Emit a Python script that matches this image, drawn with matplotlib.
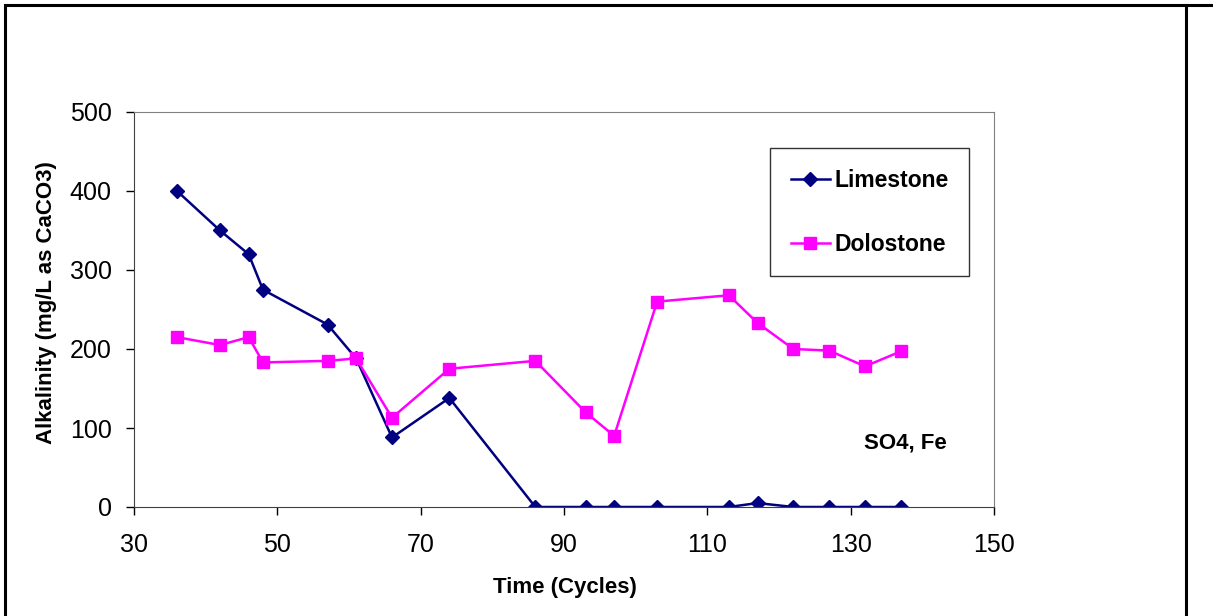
import matplotlib.pyplot as plt
from matplotlib.lines import Line2D

plt.rcParams['font.family'] = ['Liberation Sans', 'DejaVu Sans']

cycles = [36, 42, 46, 48, 57, 61, 66, 74, 86, 93, 97, 103, 113, 117, 122, 127, 132, 137]
limestone = [400, 350, 320, 275, 231, 188, 88, 138, 0, 0, 0, 0, 0, 5, 0, 0, 0, 0]
dolostone = [215, 205, 215, 183, 185, 188, 113, 175, 185, 120, 90, 260, 268, 233, 200, 198, 178, 197]

W, H = 1213, 616
fig = plt.figure(figsize=(W / 100, H / 100), dpi=100)
ax = fig.add_axes([134 / W, 1 - 507 / H, (994 - 134) / W, (507 - 112) / H])

ax.plot(cycles, limestone, color="#000080", lw=1.8, marker="D", ms=7.5, label="Limestone")
ax.plot(cycles, dolostone, color="#FF00FF", lw=1.8, marker="s", ms=8.5, label="Dolostone")

ax.set_xlim(30, 150)
ax.set_ylim(0, 500)
ax.set_xticks(range(30, 151, 20))
ax.set_yticks(range(0, 501, 100))
ax.tick_params(direction="out", length=6, width=1, labelsize=18)
ax.tick_params(axis="x", pad=13)
ax.tick_params(axis="y", pad=10)
for s in ["top", "right"]:
    ax.spines[s].set_color("#808080")
for s in ["left", "bottom"]:
    ax.spines[s].set_color("#404040")

ax.text(137.7, 81, "SO4, Fe", fontsize=16, fontweight="bold", ha="center", va="center")

leg = ax.legend(loc="upper left", bbox_to_anchor=(0.7395, 0.909),
                prop={"weight": "bold", "size": 16.5}, frameon=True, fancybox=False,
                edgecolor="#000000", labelspacing=1.8, handlelength=1.7,
                borderpad=0.9, handletextpad=0.2, borderaxespad=0)
leg.get_frame().set_linewidth(1)

fig.text(565 / W, 1 - 587 / H, "Time (Cycles)", fontsize=16, fontweight="bold",
         ha="center", va="center")
fig.text(47 / W, 1 - 303 / H, "Alkalinity (mg/L as CaCO3)", fontsize=16,
         fontweight="bold", ha="center", va="center", rotation=90)

# outer frame
fig.add_artist(Line2D([5 / W, 5 / W], [0, 1 - 5 / H], color="black", lw=2.2, transform=fig.transFigure))
fig.add_artist(Line2D([5 / W, 1], [1 - 5 / H, 1 - 5 / H], color="black", lw=2.2, transform=fig.transFigure))
fig.add_artist(Line2D([1186 / W, 1186 / W], [0, 1 - 5 / H], color="black", lw=2.2, transform=fig.transFigure))

fig.savefig("out.png", dpi=100)
